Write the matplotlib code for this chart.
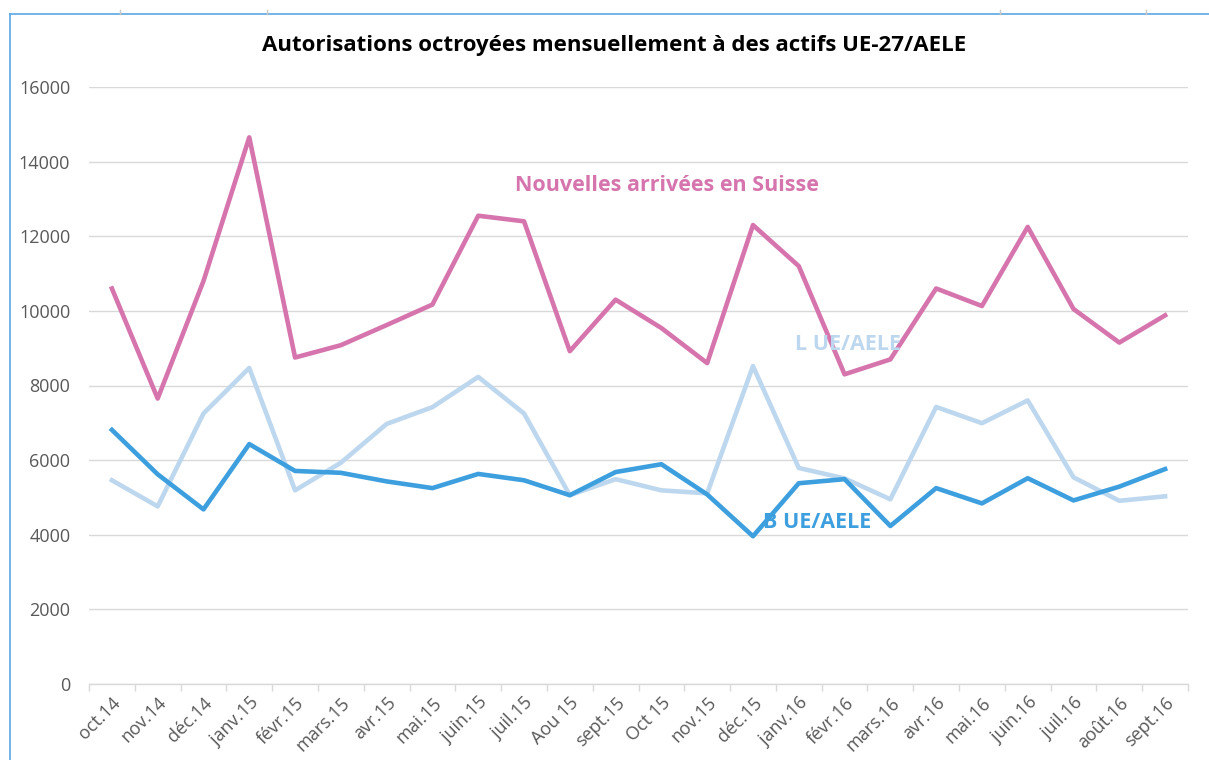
import matplotlib
matplotlib.use("Agg")
import matplotlib.pyplot as plt
from matplotlib.lines import Line2D
import numpy as np

plt.rcParams['font.family'] = ['Open Sans', 'DejaVu Sans']

months = ["oct.14", "nov.14", "déc.14", "janv.15", "févr.15", "mars.15", "avr.15",
          "mai.15", "juin.15", "juil.15", "Aou 15", "sept.15", "Oct 15", "nov.15",
          "déc.15", "janv.16", "févr.16", "mars.16", "avr.16", "mai.16", "juin.16",
          "juil.16", "août.16", "sept.16"]

nouvelles = [10600, 7650, 10800, 14650, 8750, 9080, 9620, 10170, 12550, 12400,
             8920, 10300, 9540, 8600, 12300, 11200, 8300, 8700, 10600, 10130,
             12250, 10050, 9150, 9880]

l_ue = [5460, 4760, 7250, 8470, 5190, 5930, 6970, 7420, 8230, 7250,
        5060, 5490, 5190, 5110, 8520, 5790, 5510, 4950, 7425, 6990,
        7600, 5540, 4910, 5030]

b_ue = [6810, 5620, 4680, 6430, 5710, 5660, 5430, 5250, 5630, 5460,
        5060, 5680, 5890, 5080, 3960, 5380, 5490, 4235, 5250, 4840,
        5515, 4920, 5290, 5760]

yticks = [0, 2000, 4000, 6000, 8000, 10000, 12000, 14000, 16000]

PINK = "#D674AD"
LBLUE = "#BDD7EE"
DBLUE = "#3E9FDF"
GRID = "#D9D9D9"
TXT = "#595959"

fig = plt.figure(figsize=(12.09, 7.6), dpi=100)
ax = fig.add_axes([89/1209, 1-684/760, (1188-89)/1209, (684-87)/760])

x = np.arange(len(months))
ax.plot(x, nouvelles, color=PINK, lw=3.3, solid_joinstyle='round', zorder=3)
ax.plot(x, l_ue, color=LBLUE, lw=3.3, solid_joinstyle='round', zorder=3)
ax.plot(x, b_ue, color=DBLUE, lw=3.3, solid_joinstyle='round', zorder=4)

ax.set_xlim(-0.5, len(months) - 0.5)
ax.set_ylim(0, 16000)
ax.set_yticks(yticks)
ax.set_yticklabels([str(v) for v in yticks], color=TXT, fontsize=13)
ax.tick_params(axis='y', length=0, pad=13.5)
ax.grid(axis='y', color=GRID, lw=1)
ax.set_axisbelow(True)

ax.set_xticks(x)
ax.set_xticklabels(months, rotation=45, ha='right', va='top', rotation_mode='anchor',
                   color=TXT, fontsize=13)
ax.tick_params(axis='x', length=0, pad=7)
ax.set_xticks(np.arange(-0.5, len(months), 1), minor=True)
ax.tick_params(axis='x', which='minor', length=5, color=GRID, width=1)

for s in ['top', 'right', 'left']:
    ax.spines[s].set_visible(False)
ax.spines['bottom'].set_color(GRID)
ax.spines['bottom'].set_linewidth(1)

ax.text(12.12, 13373, "Nouvelles arrivées en Suisse", color=PINK, fontsize=15.5,
        fontweight='bold', ha='center', va='center')
ax.text(16.07, 9112, "L UE/AELE", color=LBLUE, fontsize=15.5,
        fontweight='bold', ha='center', va='center', zorder=5)
ax.text(15.39, 4315, "B UE/AELE", color=DBLUE, fontsize=15.5,
        fontweight='bold', ha='center', va='center', zorder=5)

fig.text(614/1209, 1-45/760, "Autorisations octroyées mensuellement à des actifs UE-27/AELE",
         ha='center', va='center', fontsize=16, fontweight='bold', color='black')

# outer frame (blue border of the chart object)
fig.add_artist(Line2D([10/1209, 10/1209], [0, 1-14/760], color="#5BA7E3", lw=1.2,
                      transform=fig.transFigure))
fig.add_artist(Line2D([10/1209, 1], [1-14/760, 1-14/760], color="#5BA7E3", lw=1.2,
                      transform=fig.transFigure))
for px in [120, 267, 1000, 1146]:
    fig.add_artist(Line2D([px/1209, px/1209], [1-14/760, 1-10/760], color="#C8C8C8",
                          lw=1, transform=fig.transFigure))

fig.savefig("out.png", dpi=100, facecolor='white')
